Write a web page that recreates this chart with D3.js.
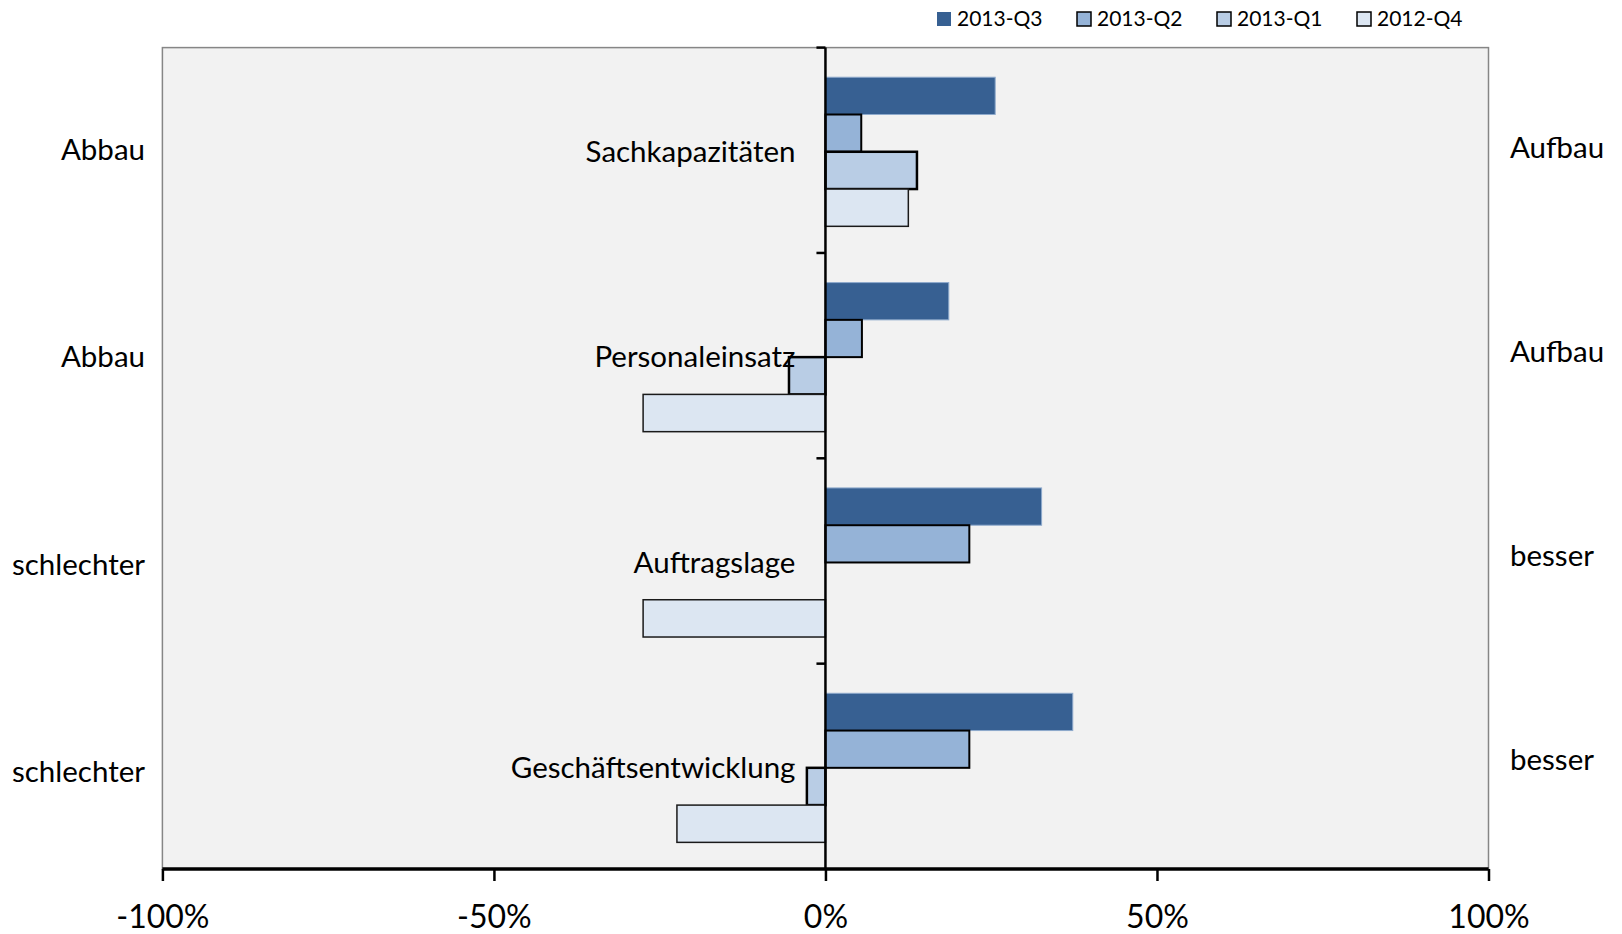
<!DOCTYPE html>
<html>
<head>
<meta charset="utf-8">
<script src="https://cdn.jsdelivr.net/npm/d3@7"></script>
<style>
  html, body { margin: 0; padding: 0; background: #ffffff; }
  svg { display: block; font-family: Lato, "Open Sans", sans-serif; }
</style>
</head>
<body>
<svg id="chart" width="1622" height="934"></svg>
<script>
// ---- data ----
const categories = ["Sachkapazitäten", "Personaleinsatz", "Auftragslage", "Geschäftsentwicklung"];
const leftLabels = ["Abbau", "Abbau", "schlechter", "schlechter"];
const rightLabels = ["Aufbau", "Aufbau", "besser", "besser"];
const seriesNames = ["2013-Q3", "2013-Q2", "2013-Q1", "2012-Q4"];
const q3_2013 = [25.6, 18.6, 32.6, 37.3];
const q2_2013 = [5.4, 5.5, 21.7, 21.7];
const q1_2013 = [13.8, -5.5, 0, -2.8];
const q4_2012 = [12.5, -27.5, -27.5, -22.4];
const xTicks = [-100, -50, 0, 50, 100];
const xTickLabels = ["-100%", "-50%", "0%", "50%", "100%"];

const seriesValues = [q3_2013, q2_2013, q1_2013, q4_2012];
const seriesStyle = [
  { fill: "#376092", stroke: "#8eaacc", sw: 1 },
  { fill: "#95b3d7", stroke: "#000000", sw: 2 },
  { fill: "#b9cde5", stroke: "#000000", sw: 2.5 },
  { fill: "#dce6f2", stroke: "#1a1a1a", sw: 1.5 }
];

// ---- layout ----
const plot = { left: 162.4, right: 1488.5, top: 47.6, bottom: 869 };
const svg = d3.select("#chart");

const x = d3.scaleLinear().domain([-100, 100]).range([plot.left, plot.right]);
const y = d3.scaleBand().domain(categories).range([plot.top + 1.5, plot.bottom + 1.5])
  .paddingInner(0.274).paddingOuter(0.137);
const ySub = d3.scaleBand().domain(seriesNames).range([0, y.bandwidth()]).padding(0);
const yCenter = d3.scaleBand().domain(categories).range([plot.top, plot.bottom]);
const yLeft = d3.scaleBand().domain(d3.range(4)).range([46, 875]);
const yRight = d3.scaleBand().domain(d3.range(4)).range([45, 861]);

// plot background
svg.append("rect")
  .attr("x", plot.left).attr("y", plot.top)
  .attr("width", plot.right - plot.left).attr("height", plot.bottom - plot.top)
  .attr("fill", "#f2f2f2").attr("stroke", "#868686").attr("stroke-width", 1.5);

// bars
const rows = [];
categories.forEach((c, ci) => {
  seriesNames.forEach((s, si) => {
    rows.push({ cat: c, series: s, si: si, value: seriesValues[si][ci] });
  });
});
svg.append("g").selectAll("rect").data(rows.filter(d => d.value !== 0)).join("rect")
  .attr("x", d => x(Math.min(0, d.value)))
  .attr("y", d => y(d.cat) + ySub(d.series))
  .attr("width", d => Math.abs(x(d.value) - x(0)))
  .attr("height", ySub.bandwidth())
  .attr("fill", d => seriesStyle[d.si].fill)
  .attr("stroke", d => seriesStyle[d.si].stroke)
  .attr("stroke-width", d => seriesStyle[d.si].sw);

// zero axis (category axis) with ticks to the left
const yAxisG = svg.append("g");
yAxisG.append("line")
  .attr("x1", x(0)).attr("x2", x(0))
  .attr("y1", plot.top).attr("y2", plot.bottom)
  .attr("stroke", "#000").attr("stroke-width", 2.5);
const boundaries = categories.map(c => yCenter(c));
yAxisG.selectAll("line.tick").data(boundaries).join("line")
  .attr("class", "tick")
  .attr("x1", x(0) - 9).attr("x2", x(0))
  .attr("y1", d => d).attr("y2", d => d)
  .attr("stroke", "#000").attr("stroke-width", 2.5);

// category labels
svg.append("g").selectAll("text").data(categories).join("text")
  .attr("x", x(0) - 30)
  .attr("y", d => yCenter(d) + yCenter.bandwidth() / 2 + 1)
  .attr("dy", "0.36em")
  .attr("text-anchor", "end")
  .attr("font-size", 29.5)
  .attr("fill", "#000")
  .text(d => d);

// left labels
svg.append("g").selectAll("text").data(leftLabels).join("text")
  .attr("x", 145)
  .attr("y", (d, i) => yLeft(i) + yLeft.bandwidth() / 2)
  .attr("dy", "0.36em")
  .attr("text-anchor", "end")
  .attr("font-size", 29.5)
  .attr("fill", "#000")
  .text(d => d);

// right labels
svg.append("g").selectAll("text").data(rightLabels).join("text")
  .attr("x", 1510)
  .attr("y", (d, i) => yRight(i) + yRight.bandwidth() / 2)
  .attr("dy", "0.36em")
  .attr("text-anchor", "start")
  .attr("font-size", 29.5)
  .attr("fill", "#000")
  .text(d => d);

// x axis
const xAxis = d3.axisBottom(x)
  .tickValues(xTicks)
  .tickFormat((d, i) => xTickLabels[i])
  .tickSize(12)
  .tickPadding(24);
const xg = svg.append("g").attr("transform", `translate(0,${plot.bottom})`).call(xAxis);
xg.select(".domain").attr("stroke", "#000").attr("stroke-width", 3.5)
  .attr("d", `M${plot.left},0H${plot.right}`);
xg.selectAll(".tick line").attr("stroke", "#000").attr("stroke-width", 2.5);
xg.selectAll(".tick text").attr("font-size", 32).attr("fill", "#000")
  .attr("font-family", 'Lato, "Open Sans", sans-serif');

// legend
const legendX = d3.scalePoint().domain(seriesNames).range([937, 1357]);
const lg = svg.append("g").selectAll("g").data(seriesNames).join("g")
  .attr("transform", d => `translate(${legendX(d)},0)`);
lg.append("rect")
  .attr("x", 0).attr("y", 12).attr("width", 14).attr("height", 14)
  .attr("fill", (d, i) => seriesStyle[i].fill)
  .attr("stroke", (d, i) => i === 0 ? "none" : "#000")
  .attr("stroke-width", 1.5);
lg.append("text")
  .attr("x", 20).attr("y", 18).attr("dy", "0.36em")
  .attr("font-size", 21).attr("fill", "#000")
  .text(d => d);
</script>
</body>
</html>
